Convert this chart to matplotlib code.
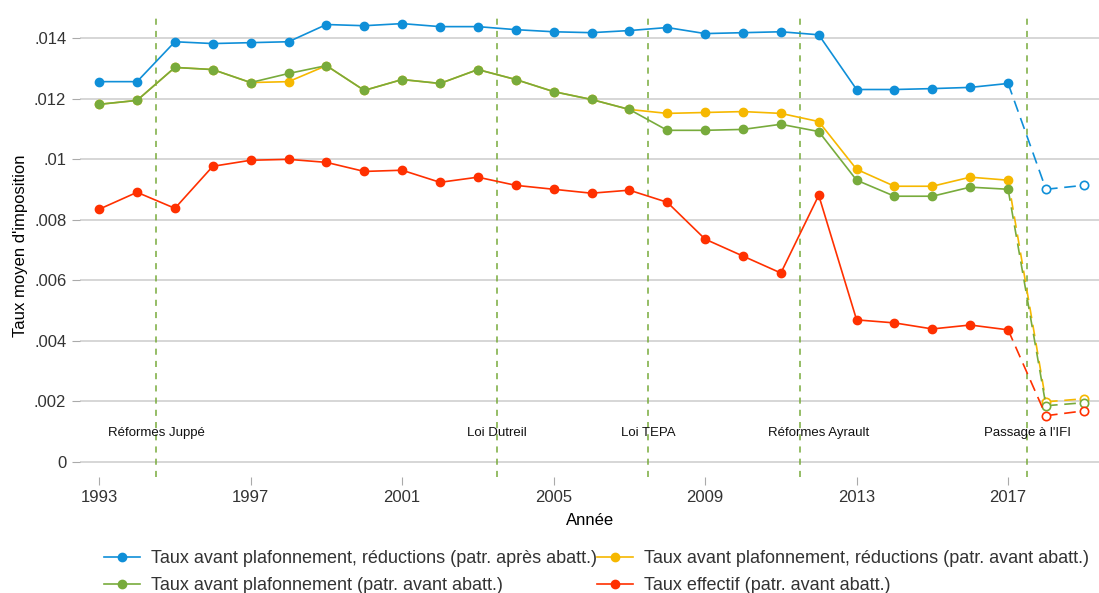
import matplotlib as mpl
import matplotlib.pyplot as plt
import numpy as np

mpl.rcParams['font.family'] = ['Liberation Sans', 'DejaVu Sans']

years = list(range(1993, 2020))

# taux avant plafonnement, reductions (patr. apres abatt.)
blue = [.01257, .01257, .01389, .01383, .01386, .01389, .01446, .01442, .01449,
        .01439, .01439, .01429, .01422, .01419, .01426, .01436, .01416, .01419,
        .01422, .01412, .01231, .01231, .01234, .01238, .01251, .00901, .00914]
# taux avant plafonnement, reductions (patr. avant abatt.)
yellow = [.01182, .01195, .01304, .01297, .01254, .01257, .01310, .01228, .01264,
          .01251, .01297, .01264, .01224, .01198, .01165, .01152, .01155, .01158,
          .01152, .01125, .00967, .00911, .00911, .00941, .00931, .00198, .00208]
# taux avant plafonnement (patr. avant abatt.)
green = [.01182, .01195, .01304, .01297, .01254, .01284, .01310, .01228, .01264,
         .01251, .01297, .01264, .01224, .01198, .01165, .01096, .01096, .01099,
         .01116, .01092, .00931, .00878, .00878, .00908, .00901, .00185, .00195]
# taux effectif (patr. avant abatt.)
red = [.00835, .00891, .00838, .00977, .00997, .01000, .00990, .00960, .00964,
       .00924, .00941, .00914, .00901, .00888, .00898, .00858, .00736, .00680,
       .00624, .00881, .00469, .00459, .00439, .00452, .00436, .00152, .00168]

labels = ["Taux avant plafonnement, réductions (patr. après abatt.)",
          "Taux avant plafonnement, réductions (patr. avant abatt.)",
          "Taux avant plafonnement (patr. avant abatt.)",
          "Taux effectif (patr. avant abatt.)"]
colors = ["#0f8fd8", "#f6b800", "#78ab3c", "#ff3000"]

reform_x = [1994.5, 2003.5, 2007.5, 2011.5, 2017.5]
reform_text_x = [1994.5, 2003.5, 2007.5, 2012, 2017.5]
reform_names = ["Réformes Juppé", "Loi Dutreil", "Loi TEPA", "Réformes Ayrault", "Passage à l'IFI"]

fig = plt.figure(figsize=(10.99, 5.93), dpi=100)
ax = fig.add_axes([0.073, 0.196, 0.927, 0.78])

for s in ax.spines.values():
    s.set_visible(False)

ax.set_yticks([0, .002, .004, .006, .008, .01, .012, .014])
ax.set_yticklabels(["0", ".002", ".004", ".006", ".008", ".01", ".012", ".014"])
ax.set_xticks([1993, 1997, 2001, 2005, 2009, 2013, 2017])
ax.grid(axis='y', color='#d0d0d0', linewidth=1.2)
ax.set_axisbelow(True)
ax.tick_params(axis='both', labelsize=12, color='#aaaaaa', length=6, labelcolor='#333333')
ax.tick_params(axis='y', pad=4)

for xv in reform_x:
    ax.axvline(xv, color='#78ab3c', linestyle=(0, (4, 4)), linewidth=1.1, zorder=1)
for xv, name in zip(reform_text_x, reform_names):
    ax.text(xv, .00096, name, ha='center', va='center', fontsize=9.5, color='#111111')

n = years.index(2017)
series = [blue, yellow, green, red]
handles = []
for vals, col, lab in zip(series, colors, labels):
    h, = ax.plot(years[:n + 1], vals[:n + 1], '-o', color=col, lw=1.2, ms=6,
                 label=lab, zorder=3)
    ax.plot(years[n:n + 2], vals[n:n + 2], '--', color=col, lw=1.2,
            dashes=(7, 4), zorder=3)
    ax.plot(years[n + 1:], vals[n + 1:], '--o', color=col, lw=1.2, ms=6,
            mfc='white', mew=1.2, dashes=(7, 4), zorder=3)
    handles.append(h)

ax.set_xlim(1992.5, 2019.4)
ax.set_ylim(-0.0005, 0.0148)
ax.set_xlabel("Année", fontsize=12, labelpad=6)
ax.set_ylabel("Taux moyen d'imposition", fontsize=12, labelpad=4)

# column-first fill: blue, green | yellow, red
lh = [handles[0], handles[2], handles[1], handles[3]]
ll = [labels[0], labels[2], labels[1], labels[3]]
fig.legend(lh, ll, ncol=2, loc='upper left', bbox_to_anchor=(0.08, 0.1),
           frameon=False, fontsize=13, handlelength=2.0, columnspacing=0.0,
           labelspacing=0.55, handletextpad=0.6, labelcolor='#333333',
           markerscale=1.0)

fig.savefig("out.png", dpi=100)
